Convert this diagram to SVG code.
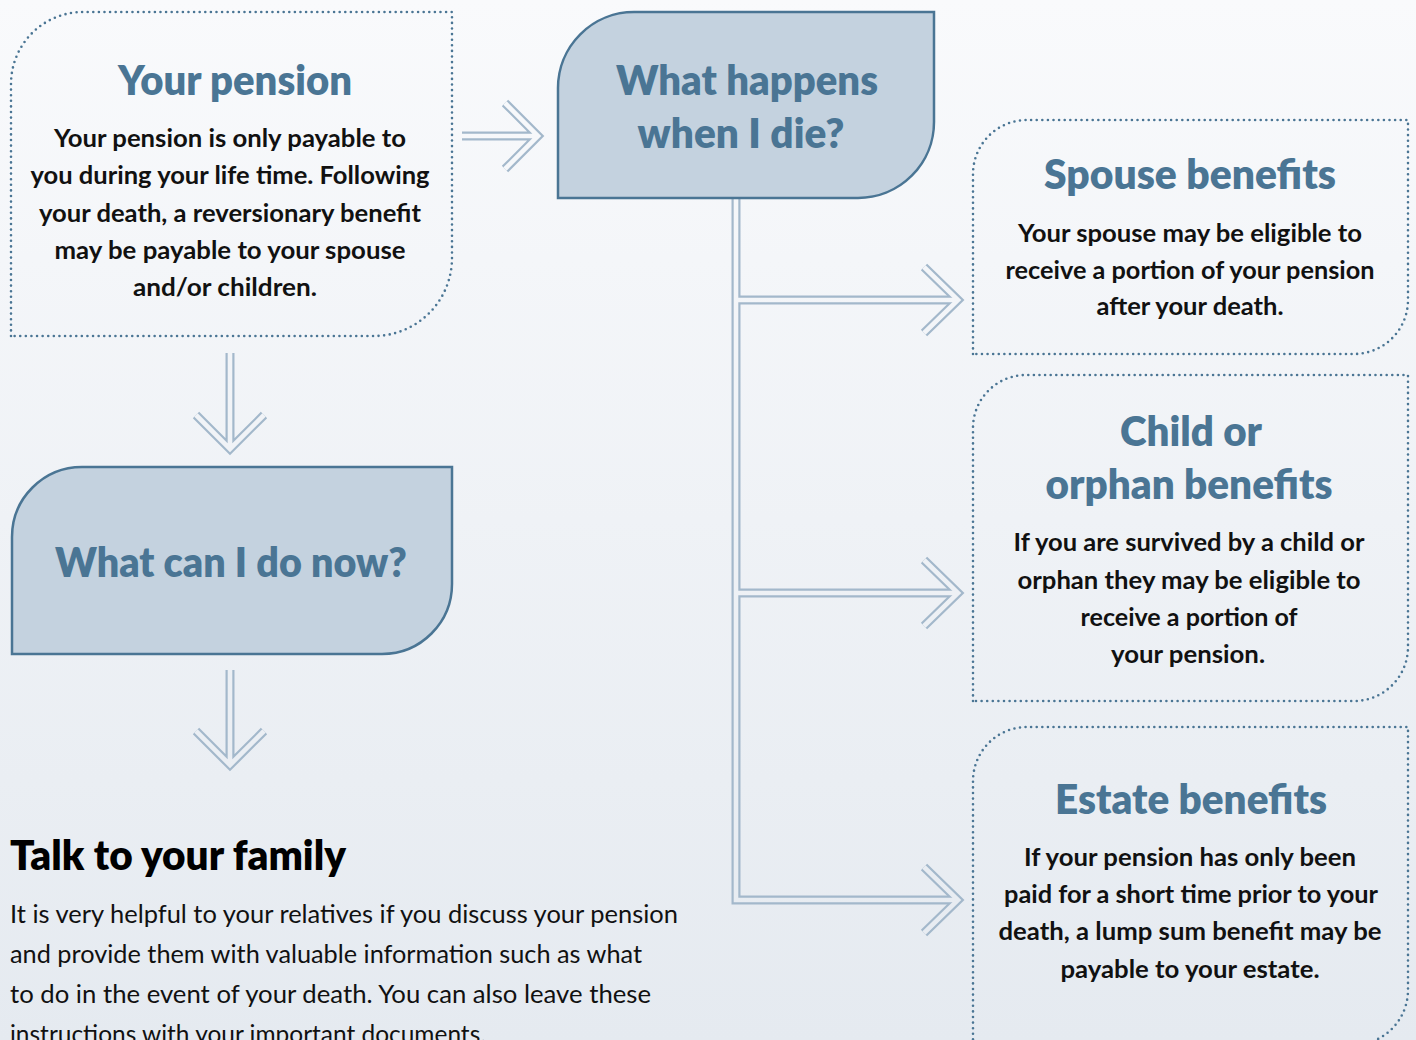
<svg xmlns="http://www.w3.org/2000/svg" width="1416" height="1040" viewBox="0 0 1416 1040">
  <defs>
    <linearGradient id="bg" gradientUnits="userSpaceOnUse" x1="0" y1="0" x2="0" y2="1040">
      <stop offset="0" stop-color="#f9fafc"/>
      <stop offset="1" stop-color="#e5eaf0"/>
    </linearGradient>
  </defs>
  <style>
    .dot { fill: none; stroke: #4a7594; stroke-width: 2.6; stroke-linecap: round; stroke-dasharray: 0 5.6; }
    .solid { fill: #c4d2df; stroke: #4a7594; stroke-width: 2.5; }
    .outer { fill: none; stroke: #a3b8cb; stroke-width: 9; stroke-linejoin: miter; stroke-miterlimit: 10; }
    .inner { fill: none; stroke: url(#bg); stroke-width: 4.6; stroke-linejoin: miter; stroke-miterlimit: 10; }
    .title { font-family: "Lato", "Open Sans", sans-serif; font-weight: 800; font-size: 42px; fill: #4a7594; text-anchor: middle; }
    .body { font-family: "Lato", "Open Sans", sans-serif; font-weight: 700; font-size: 25px; fill: #111; text-anchor: middle; }
    .head { font-family: "Lato", "Open Sans", sans-serif; font-weight: 800; font-size: 41px; fill: #000; }
    .para { font-family: "Lato", "Open Sans", sans-serif; font-weight: 400; font-size: 25px; fill: #111; }
  </style>

  <rect width="1416" height="1040" fill="url(#bg)"/>

  <!-- connectors: a thick outline stroke, hollowed by a thinner background stroke -->
  <g id="connectors">
    <g class="outer">
      <path d="M462,136 H536 M505,103 L538,136 L505,169"/>
      <path d="M230,353 V446 M196,415 L230,449 L264,415"/>
      <path d="M230,670 V762 M196,731 L230,765 L264,731"/>
      <path d="M736,190 V900 H956 M736,300 H956 M736,593 H956"/>
      <path d="M924,267 L958,300 L924,333"/>
      <path d="M924,560 L958,593 L924,626"/>
      <path d="M924,867 L958,900 L924,933"/>
    </g>
    <g class="inner">
      <path d="M462,136 H536 M505,103 L538,136 L505,169"/>
      <path d="M230,353 V446 M196,415 L230,449 L264,415"/>
      <path d="M230,670 V762 M196,731 L230,765 L264,731"/>
      <path d="M736,190 V900 H956 M736,300 H956 M736,593 H956"/>
      <path d="M924,267 L958,300 L924,333"/>
      <path d="M924,560 L958,593 L924,626"/>
      <path d="M924,867 L958,900 L924,933"/>
    </g>
  </g>

  <g id="your-pension">
    <path class="dot" d="M11,336 V84 A72,72 0 0 1 83,12 H452 V258 A78,78 0 0 1 374,336 Z"/>
    <text class="title" x="235" y="95" textLength="234" lengthAdjust="spacingAndGlyphs">Your pension</text>
    <text class="body" x="230" y="147" textLength="352" lengthAdjust="spacingAndGlyphs">Your pension is only payable to</text>
    <text class="body" x="230" y="184" textLength="399" lengthAdjust="spacingAndGlyphs">you during your life time. Following</text>
    <text class="body" x="230" y="222" textLength="382" lengthAdjust="spacingAndGlyphs">your death, a reversionary benefit</text>
    <text class="body" x="230" y="259" textLength="351" lengthAdjust="spacingAndGlyphs">may be payable to your spouse</text>
    <text class="body" x="225" y="296" textLength="184" lengthAdjust="spacingAndGlyphs">and/or children.</text>
  </g>

  <g id="what-happens">
    <path class="solid" d="M558,198 V88 A76,76 0 0 1 634,12 H934 V122 A76,76 0 0 1 858,198 Z"/>
    <text class="title" x="747" y="95" textLength="262" lengthAdjust="spacingAndGlyphs">What happens</text>
    <text class="title" x="741" y="148" textLength="207" lengthAdjust="spacingAndGlyphs">when I die?</text>
  </g>

  <g id="what-can-i-do">
    <path class="solid" d="M12,654 V537 A70,70 0 0 1 82,467 H452 V584 A70,70 0 0 1 382,654 Z"/>
    <text class="title" x="231" y="577" textLength="352" lengthAdjust="spacingAndGlyphs">What can I do now?</text>
  </g>

  <g id="spouse-benefits">
    <path class="dot" d="M973,354 V174 A54,54 0 0 1 1027,120 H1408 V300 A54,54 0 0 1 1354,354 Z"/>
    <text class="title" x="1190" y="189" textLength="292" lengthAdjust="spacingAndGlyphs">Spouse benefits</text>
    <text class="body" x="1190" y="242" textLength="344" lengthAdjust="spacingAndGlyphs">Your spouse may be eligible to</text>
    <text class="body" x="1190" y="279" textLength="369" lengthAdjust="spacingAndGlyphs">receive a portion of your pension</text>
    <text class="body" x="1190" y="315" textLength="187" lengthAdjust="spacingAndGlyphs">after your death.</text>
  </g>

  <g id="child-benefits">
    <path class="dot" d="M973,701 V428 A53,53 0 0 1 1026,375 H1408 V647 A54,54 0 0 1 1354,701 Z"/>
    <text class="title" x="1191" y="446" textLength="142" lengthAdjust="spacingAndGlyphs">Child or</text>
    <text class="title" x="1189" y="499" textLength="287" lengthAdjust="spacingAndGlyphs">orphan benefits</text>
    <text class="body" x="1189" y="551" textLength="351" lengthAdjust="spacingAndGlyphs">If you are survived by a child or</text>
    <text class="body" x="1189" y="589" textLength="343" lengthAdjust="spacingAndGlyphs">orphan they may be eligible to</text>
    <text class="body" x="1189" y="626" textLength="217" lengthAdjust="spacingAndGlyphs">receive a portion of</text>
    <text class="body" x="1188" y="663" textLength="154" lengthAdjust="spacingAndGlyphs">your pension.</text>
  </g>

  <g id="estate-benefits">
    <path class="dot" d="M973,1045 V781 A54,54 0 0 1 1027,727 H1408 V990 A55,55 0 0 1 1353,1045 Z"/>
    <text class="title" x="1191" y="814" textLength="272" lengthAdjust="spacingAndGlyphs">Estate benefits</text>
    <text class="body" x="1190" y="866" textLength="332" lengthAdjust="spacingAndGlyphs">If your pension has only been</text>
    <text class="body" x="1191" y="903" textLength="374" lengthAdjust="spacingAndGlyphs">paid for a short time prior to your</text>
    <text class="body" x="1190" y="940" textLength="383" lengthAdjust="spacingAndGlyphs">death, a lump sum benefit may be</text>
    <text class="body" x="1190" y="978" textLength="259" lengthAdjust="spacingAndGlyphs">payable to your estate.</text>
  </g>

  <g id="talk-to-your-family">
    <text class="head" x="10" y="870" textLength="336" lengthAdjust="spacingAndGlyphs">Talk to your family</text>
    <text class="para" x="10" y="923" textLength="668" lengthAdjust="spacingAndGlyphs">It is very helpful to your relatives if you discuss your pension</text>
    <text class="para" x="10" y="963" textLength="632" lengthAdjust="spacingAndGlyphs">and provide them with valuable information such as what</text>
    <text class="para" x="10" y="1003" textLength="641" lengthAdjust="spacingAndGlyphs">to do in the event of your death. You can also leave these</text>
    <text class="para" x="10" y="1043" textLength="476" lengthAdjust="spacingAndGlyphs">instructions with your important documents.</text>
  </g>
</svg>
